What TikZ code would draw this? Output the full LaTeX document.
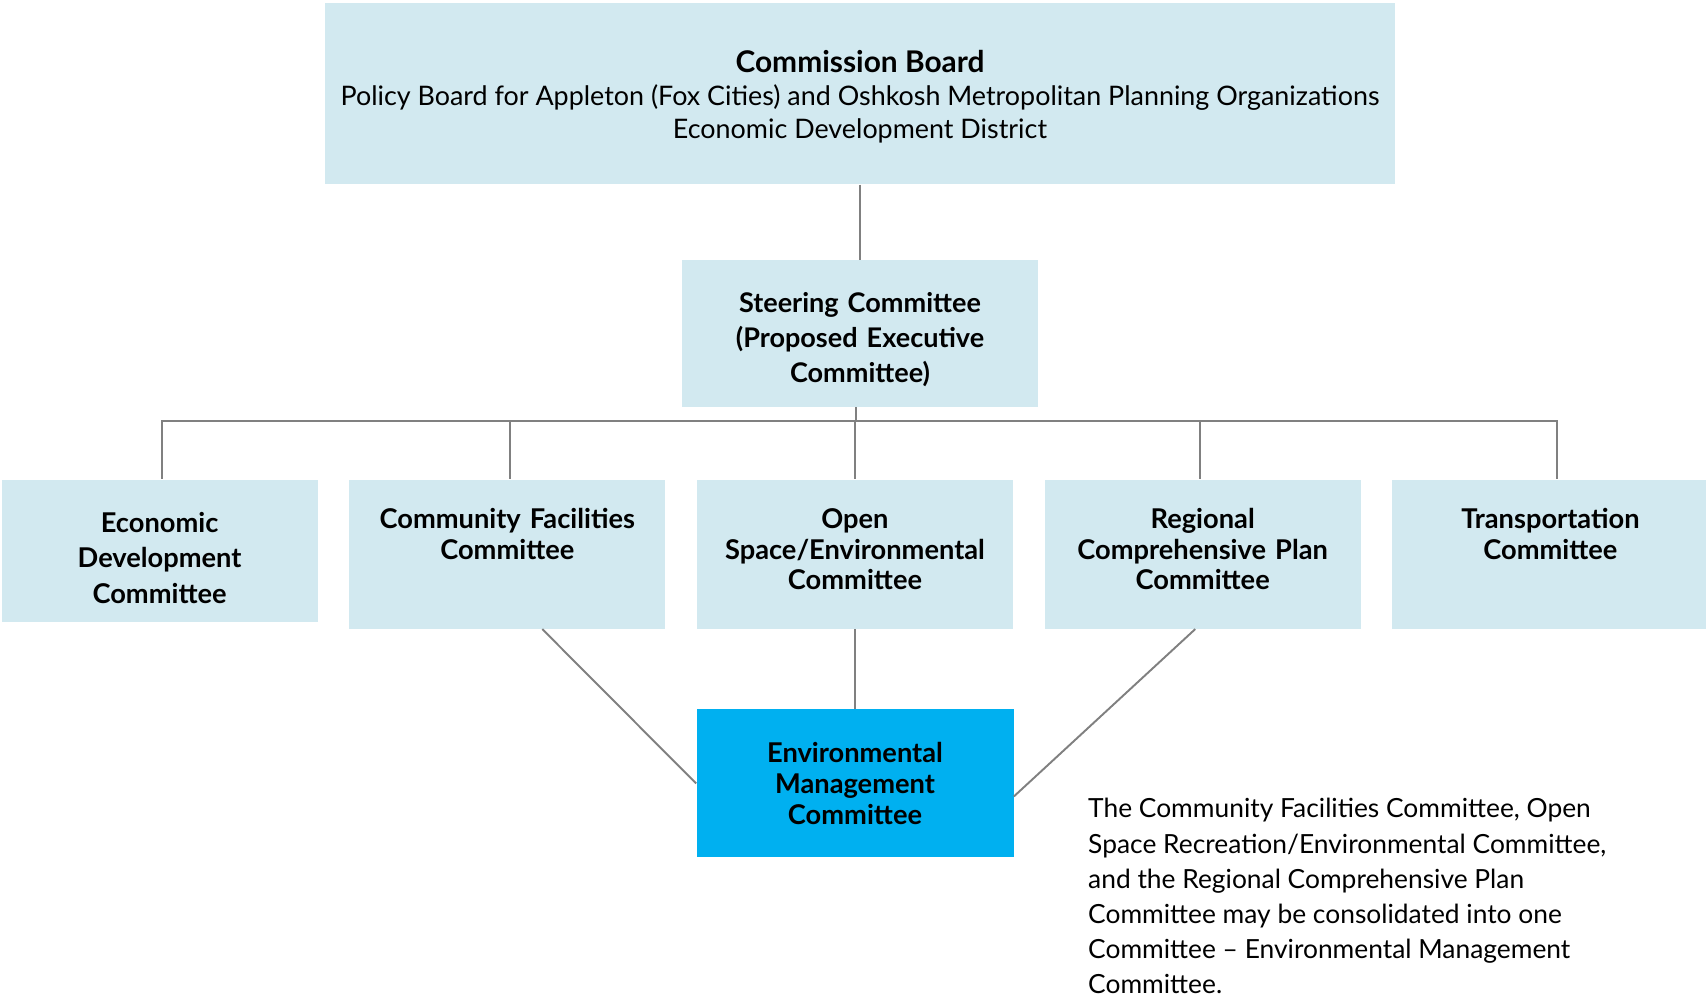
\documentclass[tikz,border=0pt]{standalone}
\usepackage{fontspec}
\setmainfont{Lato}
\usepackage{xcolor}
\usetikzlibrary{positioning, calc}
\definecolor{boxblue}{RGB}{210, 233, 240}
\definecolor{envblue}{RGB}{0, 176, 240}
\definecolor{linegray}{RGB}{128, 128, 128}
\tikzstyle{board} = [rectangle, text width=21.4cm, inner xsep=0pt, inner ysep=0pt, text height=1.38cm, text depth=2.24cm, align=flush center, fill=boxblue, font=\fontsize{15.3}{18.7}\selectfont]
\tikzstyle{steer} = [rectangle, text width=7.12cm, inner xsep=0pt, inner ysep=0pt, text height=1.04cm, text depth=1.90cm, align=center, fill=boxblue, font=\bfseries\fontsize{15.4}{20}\selectfont]
\tikzstyle{committee} = [rectangle, text width=6.32cm, inner xsep=0pt, inner ysep=0pt, text height=0.98cm, text depth=2.00cm, align=center, fill=boxblue, font=\bfseries\fontsize{15.5}{17.4}\selectfont]
\tikzstyle{econbox} = [rectangle, text width=6.32cm, inner xsep=0pt, inner ysep=0pt, text height=1.06cm, text depth=1.78cm, align=center, fill=boxblue, font=\bfseries\fontsize{15.5}{20}\selectfont]
\tikzstyle{envbox} = [rectangle, minimum width=6.34cm, minimum height=2.96cm, align=center, fill=envblue, font=\bfseries\fontsize{15.5}{17.9}\selectfont]
\tikzstyle{note} = [rectangle, inner sep=0pt, align=left, font=\fontsize{15}{20}\selectfont]
\tikzstyle{link} = [draw=linegray, line width=1.1pt]

\begin{document}
\begin{tikzpicture}
\useasboundingbox (0,0) rectangle (34.12,-19.94);

% Board and steering committee
\node (board) [board, anchor=north] at (17.2,-0.06) {{\fontsize{17}{18.7}\selectfont\bfseries Commission Board}\\Policy Board for Appleton (Fox Cities) and Oshkosh Metropolitan Planning Organizations\\Economic Development District};
\node (steering) [steer, below=1.5cm of board] {Steering Committee\\(Proposed Executive\\Committee)};

% Committees
\node (open) [committee, below=1.44cm of steering, xshift=-0.1cm] {Open\\Space/Environmental\\Committee};
\node (comm) [committee, left=0.62cm of open] {Community Facilities\\Committee};
\node (econ) [econbox, left=0.62cm of comm.north west, anchor=north east] {Economic\\Development\\Committee};
\node (regional) [committee, right=0.62cm of open] {Regional\\Comprehensive Plan\\Committee};
\node (transport) [committee, right=0.62cm of regional] {Transportation\\Committee};

% Environmental management committee
\node (env) [envbox, below=1.6cm of open] {Environmental\\Management\\Committee};
\node (remark) [note, below right=1.78cm and 1.48cm of env.north east] {The Community Facilities Committee, Open\\Space Recreation/Environmental Committee,\\and the Regional Comprehensive Plan\\Committee may be consolidated into one\\Committee -- Environmental Management\\Committee.};

% Lines
\draw [link] (board) -- (steering);
\draw [link] ([xshift=-0.08cm]steering.south) -- ++(0,-0.28) coordinate (bus);
\draw [link] (bus) -| ([xshift=0.04cm]econ.north);
\draw [link] (bus) -| ([xshift=0.06cm]comm.north);
\draw [link] (bus) -| (open.north);
\draw [link] (bus) -| ([xshift=-0.06cm]regional.north);
\draw [link] (bus) -| ([xshift=0.13cm]transport.north);

% Consolidation lines
\draw [link] ([xshift=0.7cm]comm.south) -- (env.west);
\draw [link] (open.south) -- (env.north);
\draw [link] ([xshift=-0.15cm]regional.south) -- ([yshift=-0.26cm]env.east);

\end{tikzpicture}
\end{document}
